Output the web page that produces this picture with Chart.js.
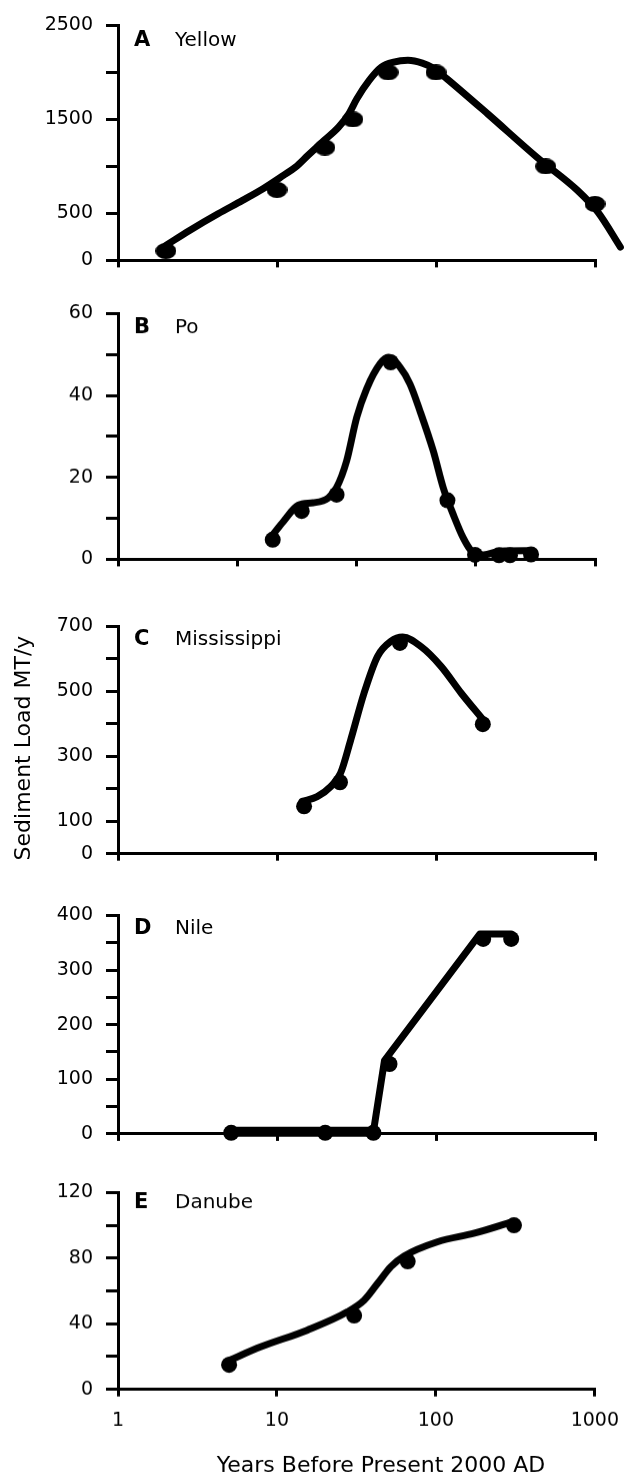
<!DOCTYPE html>
<html>
<head>
<meta charset="utf-8">
<script src="https://cdn.jsdelivr.net/npm/chart.js@4.4.1/dist/chart.umd.min.js"></script>
<style>
  html, body { margin: 0; padding: 0; background: #fff; }
  #page { position: relative; width: 632px; height: 1477px; overflow: hidden; background: #fff; }
  .panel { position: absolute; left: 0; width: 632px; }
</style>
</head>
<body>
<div id="page"></div>
<script>
// x axis (years before present, log scale)
const decadeTicks = [1, 10, 100, 1000];
const decadeLabels = ['1', '10', '100', '1000'];
const poXTicks = [1, 5.62, 31.6, 178, 1000];

// A - Yellow
const yellowYears = [2, 10, 20, 30, 50, 100, 490, 1000];
const yellowLoad = [100, 750, 1200, 1500, 2000, 2000, 1000, 600];
const yellowCurveYears = [2.0, 2.82, 4.26, 6.07, 8.17, 10.97, 13.1, 15.65, 19.8, 24.4, 28.3, 31.8, 38.0, 45.4, 54.2, 66.6, 82.0, 97.9, 117, 211, 430, 776, 1043, 1444];
const yellowCurveLoad = [160, 319, 496, 638, 762, 904, 993, 1117, 1277, 1418, 1560, 1720, 1915, 2057, 2110, 2128, 2099, 2039, 1933, 1560, 1099, 745, 514, 142];
const yellowTickLabels = [0, 500, 1500, 2500];

// B - Po
const poYears = [9.4, 14.3, 23.7, 51.9, 118, 176, 249, 292, 396];
const poLoad = [4.8, 11.8, 15.8, 48.1, 14.4, 1.1, 1.0, 1.0, 1.2];
const poCurveYears = [9.4, 11.0, 13.6, 16.9, 21.0, 23.7, 27.4, 31.7, 36.6, 44.4, 50.1, 59.4, 68.6, 79.3, 96.2, 111, 128.5, 148.5, 167.6, 198.6, 253, 390];
const poCurveLoad = [6.0, 9.3, 13.2, 13.8, 15.0, 17.5, 24.0, 34.6, 41.6, 47.7, 49.3, 46.9, 42.8, 36.2, 26.4, 17.5, 10.9, 5.2, 2.0, 1.1, 2.0, 2.1];
const poTickLabels = [0, 20, 40, 60];

// C - Mississippi
const missYears = [14.8, 24.9, 59.3, 197];
const missLoad = [146, 220, 649, 399];
const missCurveYears = [14.4, 17.9, 21.8, 25.1, 29.1, 35.3, 42.9, 52.0, 61.7, 80.4, 107.6, 143.8, 197.3];
const missCurveLoad = [161, 176, 207, 248, 351, 495, 608, 654, 667, 638, 577, 495, 413];
const missTickLabels = [0, 100, 300, 500, 700];

// D - Nile
const nileYears = [5.15, 20.1, 40.4, 51, 198, 297];
const nileLoad = [2, 2, 2, 128, 357, 357];
const nileLineYears = [5.15, 40.4, 47.4, 189, 297];
const nileLineLoad = [4, 4, 134, 366, 366];
const nileTickLabels = [0, 100, 200, 300, 400];

// E - Danube
const danubeYears = [5.0, 30.6, 66.5, 310];
const danubeLoad = [15, 45, 78, 100];
const danubeCurveYears = [5.0, 7.9, 15.5, 27.8, 35.4, 43.0, 52.1, 63.2, 102.8, 175, 305];
const danubeCurveLoad = [17.7, 25.9, 36.1, 47.3, 54.4, 64.6, 74.8, 81.3, 90.0, 95.2, 102.3];
const danubeTickLabels = [0, 40, 80, 120];

const FONT = 'DejaVu Sans';
Chart.defaults.font.family = FONT;
Chart.defaults.color = '#000';

function ellipseDot(w, h) {
  const c = document.createElement('canvas');
  c.width = w;
  c.height = h;
  const g = c.getContext('2d');
  g.fillStyle = '#000';
  g.beginPath();
  g.ellipse(w / 2, h / 2, w / 2, h / 2, 0, 0, Math.PI * 2);
  g.fill();
  return c;
}

function toPoints(xs, ys) {
  return xs.map((x, i) => ({ x: x, y: ys[i] }));
}

// panel letter + river name, and the shared axis titles
const panelText = {
  id: 'panelText',
  afterDraw(chart, args, opts) {
    const { ctx, chartArea } = chart;
    ctx.save();
    ctx.fillStyle = '#000';
    ctx.textBaseline = 'alphabetic';
    ctx.textAlign = 'left';
    ctx.font = 'bold 21px "' + FONT + '"';
    ctx.fillText(opts.letter, chartArea.left + 16, chartArea.top + opts.dy);
    ctx.font = '20px "' + FONT + '"';
    ctx.fillText(opts.name, chartArea.left + 57, chartArea.top + opts.dy);
    if (opts.yTitle) {
      ctx.font = '22px "' + FONT + '"';
      ctx.translate(30, (chartArea.top + chartArea.bottom) / 2 + 8);
      ctx.rotate(-Math.PI / 2);
      ctx.textAlign = 'center';
      ctx.fillText(opts.yTitle, 0, 0);
      ctx.setTransform(1, 0, 0, 1, 0, 0);
    }
    if (opts.xTitle) {
      ctx.font = '22px "' + FONT + '"';
      ctx.textAlign = 'center';
      ctx.fillText(opts.xTitle, chartArea.left + 263, chartArea.bottom + 82);
    }
    ctx.restore();
  }
};

const panels = [
  { letter: 'A', name: 'Yellow', top: 25, bottom: 260, dy: 21,
    years: yellowYears, load: yellowLoad, curveYears: yellowCurveYears, curveLoad: yellowCurveLoad,
    yMax: 2500, yStep: 500, yLabels: yellowTickLabels, xTicks: decadeTicks, dot: ellipseDot(21, 16) },
  { letter: 'B', name: 'Po', top: 313.3, bottom: 558.3, dy: 19.5,
    years: poYears, load: poLoad, curveYears: poCurveYears, curveLoad: poCurveLoad,
    yMax: 60, yStep: 10, yLabels: poTickLabels, xTicks: poXTicks },
  { letter: 'C', name: 'Mississippi', top: 626.7, bottom: 854, dy: 18.5,
    years: missYears, load: missLoad, curveYears: missCurveYears, curveLoad: missCurveLoad,
    yMax: 700, yStep: 100, yLabels: missTickLabels, xTicks: decadeTicks, yTitle: 'Sediment Load MT/y' },
  { letter: 'D', name: 'Nile', top: 915, bottom: 1133.5, dy: 18.5,
    years: nileYears, load: nileLoad, curveYears: nileLineYears, curveLoad: nileLineLoad,
    yMax: 400, yStep: 50, yLabels: nileTickLabels, xTicks: decadeTicks, straight: true },
  { letter: 'E', name: 'Danube', top: 1192.7, bottom: 1389, dy: 16,
    years: danubeYears, load: danubeLoad, curveYears: danubeCurveYears, curveLoad: danubeCurveLoad,
    yMax: 120, yStep: 20, yLabels: danubeTickLabels, xTicks: decadeTicks, xLabels: decadeLabels,
    xTitle: 'Years Before Present 2000 AD' }
];

function makePanel(p) {
  const wrap = document.createElement('div');
  wrap.className = 'panel';
  wrap.style.top = p.top + 'px';
  wrap.style.height = (p.bottom - p.top + 80) + 'px';
  const canvas = document.createElement('canvas');
  wrap.appendChild(canvas);
  document.getElementById('page').appendChild(wrap);

  const curve = {
    data: toPoints(p.curveYears, p.curveLoad),
    borderColor: '#000',
    borderWidth: 7,
    pointRadius: 0,
    clip: false,
    borderCapStyle: 'round',
    borderJoinStyle: 'round'
  };
  if (p.straight) {
    curve.tension = 0;
    curve.segment = { borderWidth: ctx => ctx.p0DataIndex === 0 ? 10 : 7 };
  } else {
    curve.cubicInterpolationMode = 'monotone';
  }

  const dots = {
    data: toPoints(p.years, p.load),
    showLine: false,
    pointRadius: 8,
    pointBorderWidth: 0,
    pointBackgroundColor: '#000',
    pointStyle: p.dot || 'circle',
    clip: false
  };

  // x range is set in hooks (not options.min/max) so points past 1000 still get drawn
  const fixRange = s => { s.min = 1; s.max = 1000; };

  const chart = new Chart(canvas, {
    type: 'line',
    data: { datasets: [dots, curve] },
    options: {
      responsive: true,
      maintainAspectRatio: false,
      animation: false,
      events: [],
      layout: { padding: { top: 14, right: 37, left: 0, bottom: p.xTitle ? 50 : 0 } },
      plugins: {
        legend: { display: false },
        tooltip: { enabled: false },
        panelText: { letter: p.letter, name: p.name, dy: p.dy, yTitle: p.yTitle, xTitle: p.xTitle }
      },
      scales: {
        x: {
          type: 'logarithmic',
          bounds: 'data',
          afterDataLimits: fixRange,
          afterBuildTicks: s => { fixRange(s); s.ticks = p.xTicks.map(v => ({ value: v })); },
          grid: { drawOnChartArea: false, drawTicks: true, tickLength: 7, color: '#000', lineWidth: 3 },
          border: { display: true, color: '#000', width: 3 },
          ticks: {
            display: !!p.xLabels,
            autoSkip: false,
            maxRotation: 0,
            padding: 13,
            color: '#000',
            font: { size: 19 },
            callback: (v, i) => p.xLabels ? p.xLabels[i] : ''
          }
        },
        y: {
          min: 0,
          max: p.yMax,
          afterFit: s => { s.width = 118; },
          grid: { drawOnChartArea: false, drawTicks: true, tickLength: 12, color: '#000', lineWidth: 3 },
          border: { display: true, color: '#000', width: 3 },
          ticks: {
            stepSize: p.yStep,
            padding: 13,
            color: '#000',
            font: { size: 19 },
            callback: v => p.yLabels.includes(v) ? String(v) : ''
          }
        }
      }
    },
    plugins: [panelText]
  });

  // size the canvas so the y range lands on the wanted pixel rows
  for (let k = 0; k < 2; k++) {
    const a = chart.chartArea;
    const extra = chart.height - (a.bottom - a.top);
    wrap.style.height = (p.bottom - p.top + extra) + 'px';
    chart.resize();
  }
  wrap.style.top = (p.top - chart.chartArea.top) + 'px';
  return chart;
}

panels.forEach(makePanel);
</script>
</body>
</html>
